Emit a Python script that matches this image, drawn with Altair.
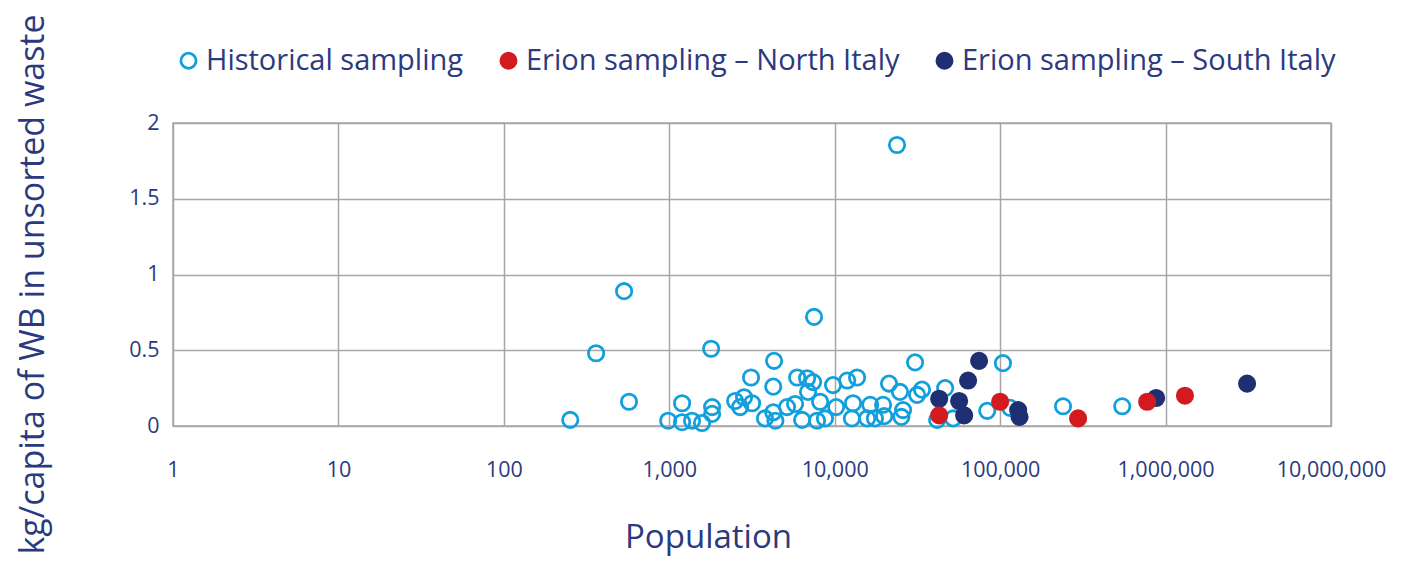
import altair as alt
import pandas as pd

# ---- data ----
hist_pop = [252, 361, 533, 571, 985, 1195, 1195, 1373, 1578, 1790,
            1815, 1815, 2500, 2680, 2830, 3120, 3165, 3790, 4300, 4250,
            4250, 4380, 5150, 5760, 5930, 6350, 6810, 7400, 6900, 7500,
            8160, 7820, 8730, 9770, 10200, 11900, 13650, 12900, 12700, 16400,
            15700, 17500, 19600, 19900, 21300, 24800, 25900, 25300, 30600, 31500,
            33700, 46500, 41600, 52000, 83500, 104000, 115000, 240000, 547000, 23800]
hist_val = [0.04, 0.48, 0.89, 0.16, 0.035, 0.15, 0.025, 0.035, 0.02, 0.51,
            0.125, 0.08, 0.165, 0.125, 0.19, 0.32, 0.15, 0.05, 0.43, 0.26,
            0.09, 0.035, 0.125, 0.145, 0.32, 0.04, 0.315, 0.29, 0.225, 0.72,
            0.16, 0.035, 0.05, 0.27, 0.125, 0.30, 0.32, 0.15, 0.05, 0.14,
            0.05, 0.05, 0.14, 0.065, 0.28, 0.225, 0.105, 0.06, 0.42, 0.205,
            0.24, 0.25, 0.04, 0.05, 0.10, 0.415, 0.12, 0.13, 0.13, 1.855]

south_pop = [74600, 64000, 42800, 56500, 60600, 128500, 131000, 877000, 3110000]
south_val = [0.43, 0.30, 0.18, 0.165, 0.07, 0.105, 0.06, 0.185, 0.28]

north_pop = [42800, 100000, 296000, 774000, 1310000]
north_val = [0.07, 0.16, 0.05, 0.16, 0.20]

series_names = ["Historical sampling",
                "Erion sampling \u2013 North Italy",
                "Erion sampling \u2013 South Italy"]

x_ticks = [1, 10, 100, 1000, 10000, 100000, 1000000, 10000000]
y_ticks = [0, 0.5, 1, 1.5, 2]

# ---- styling ----
FONT = "Open Sans"
NAVY = "#2B3A7E"
GRID = "#A6A6A6"
stroke_colors = ["#12A0DC", "#D21A1F", "#1F2F73"]
fill_colors = ["transparent", "#D21A1F", "#1F2F73"]

df = pd.concat([
    pd.DataFrame({"pop": hist_pop, "val": hist_val, "series": series_names[0]}),
    pd.DataFrame({"pop": south_pop, "val": south_val, "series": series_names[2]}),
    pd.DataFrame({"pop": north_pop, "val": north_val, "series": series_names[1]}),
], ignore_index=True)

chart = alt.Chart(df).mark_point(
    filled=True, size=235, strokeWidth=2.8, opacity=1, fillOpacity=1
).encode(
    x=alt.X("pop:Q",
            scale=alt.Scale(type="log", domain=[1, 10000000], nice=False),
            axis=alt.Axis(values=x_ticks, format=",", title="Population",
                          labelPadding=33, labelFlush=False,
                          titleX=535, titleY=111,
                          titleBaseline="middle", titleAlign="center",
                          titleFontSize=33)),
    y=alt.Y("val:Q",
            scale=alt.Scale(domain=[0, 2], nice=False),
            axis=alt.Axis(values=y_ticks, format="~g",
                          title="kg/capita of WB in unsorted waste",
                          labelPadding=14, titleAngle=-90, titleX=-140, titleY=161,
                          titleBaseline="middle", titleAlign="center",
                          titleFontSize=34)),
    stroke=alt.Stroke("series:N", title=None,
                      scale=alt.Scale(domain=series_names, range=stroke_colors)),
    fill=alt.Fill("series:N", title=None,
                  scale=alt.Scale(domain=series_names, range=fill_colors)),
).properties(
    width=1158, height=303,
    autosize=alt.AutoSizeParams(type="none"),
    padding={"left": 165, "top": 115, "right": 81, "bottom": 135},
).configure_view(
    stroke=GRID, strokeWidth=1.5
).configure_axis(
    grid=True, gridColor=GRID, gridWidth=1.5, domain=False, ticks=False,
    labelFont=FONT, labelFontSize=21.5, labelColor=NAVY,
    titleFont=FONT, titleColor=NAVY, titleFontWeight="normal"
).configure_legend(
    orient="none", legendX=1, legendY=-77, direction="horizontal",
    labelFont=FONT, labelFontSize=29, labelColor=NAVY, labelLimit=0,
    symbolType="circle", symbolSize=230, symbolStrokeWidth=2.8,
    columnPadding=30, labelOffset=3, padding=0
)

chart.save("out.html", embed_options={"renderer": "svg", "actions": False})
